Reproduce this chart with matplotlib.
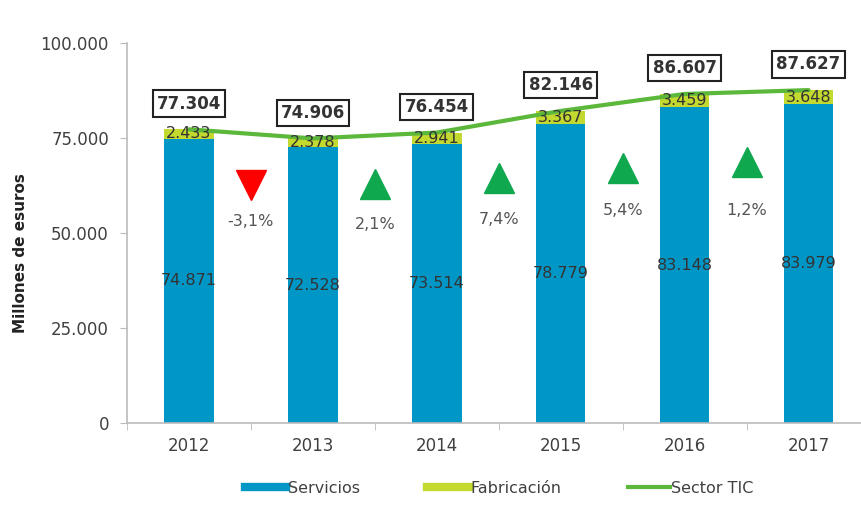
import matplotlib
matplotlib.use("Agg")
import matplotlib.pyplot as plt
import numpy as np
from matplotlib.lines import Line2D

years = ["2012", "2013", "2014", "2015", "2016", "2017"]
servicios = [74871, 72528, 73514, 78779, 83148, 83979]
fabricacion = [2433, 2378, 2941, 3367, 3459, 3648]
sector_tic = [77304, 74906, 76454, 82146, 86607, 87627]
variacion = [-3.1, 2.1, 7.4, 5.4, 1.2]

def fmt(v):
    return f"{v:,}".replace(",", ".")

# layout for change markers (marker y, text y)
marker_y = [62600, 63000, 64500, 67000, 68700]
text_y = [53000, 52200, 53500, 56000, 56000]

blue = "#0096C6"
lime = "#C3D92F"
green_line = "#5CB83A"
tri_green = "#10A84E"
tri_red = "#FF0000"
txt = "#404040"

fig = plt.figure(figsize=(8.61, 5.13), dpi=100)
ax = fig.add_axes([0.1475, 0.1754, 0.852, 0.7406])

x = np.arange(len(years))
w = 0.4
ax.bar(x, servicios, w, color=blue, zorder=2)
ax.bar(x, fabricacion, w, bottom=servicios, color=lime, zorder=2)
ax.plot(x, sector_tic, color=green_line, lw=3, zorder=3, solid_capstyle="round")

for i in range(len(years)):
    ax.text(x[i], servicios[i] / 2, fmt(servicios[i]), ha="center", va="center",
            fontsize=11.5, color="#333333", zorder=4)
    ax.text(x[i], servicios[i] + fabricacion[i] / 2, fmt(fabricacion[i]), ha="center",
            va="center", fontsize=11.5, color="#333333", zorder=4)
    ax.annotate(fmt(sector_tic[i]), (x[i], sector_tic[i]), xytext=(0, 18.5),
                textcoords="offset points", ha="center", va="center", fontsize=12,
                fontweight="bold", color="#333333", zorder=5,
                bbox=dict(boxstyle="square,pad=0.25", fc="white", ec="#222222", lw=1.5))

for j, v in enumerate(variacion):
    xm = j + 0.5
    if v < 0:
        ax.plot(xm, marker_y[j], marker="v", ms=21, color=tri_red, mec=tri_red, zorder=4)
    else:
        ax.plot(xm, marker_y[j], marker="^", ms=21, color=tri_green, mec=tri_green, zorder=4)
    ax.text(xm, text_y[j], f"{v:.1f}%".replace(".", ","), ha="center", va="center",
            fontsize=11.5, color="#555555")

ax.set_xlim(-0.5, 5.42)
ax.set_ylim(0, 100000)
ax.set_yticks([0, 25000, 50000, 75000, 100000])
ax.set_yticklabels([fmt(t) for t in [0, 25000, 50000, 75000, 100000]], fontsize=12, color=txt)
ax.set_xticks(x)
ax.set_xticklabels(years, fontsize=12, color=txt)
ax.set_xticks(np.arange(-0.5, 5.5, 1), minor=True)
ax.tick_params(axis="x", which="major", length=0, pad=10)
ax.tick_params(axis="x", which="minor", length=5, color="#BBBBBB")
ax.tick_params(axis="y", length=5, color="#BBBBBB", pad=8)
for s in ["top", "right"]:
    ax.spines[s].set_visible(False)
ax.spines["left"].set_color("#BBBBBB")
ax.spines["bottom"].set_color("#BBBBBB")
ax.spines["left"].set_linewidth(1.2)
ax.spines["bottom"].set_linewidth(1.2)
ax.set_ylabel("Millones de esuros", fontsize=11, fontweight="bold", color="#222222")
ax.yaxis.set_label_coords(-0.135, 0.447)

handles = [Line2D([0], [0], color=blue, lw=6),
           Line2D([0], [0], color=lime, lw=6),
           Line2D([0], [0], color=green_line, lw=3)]
fig.legend(handles, ["Servicios", "Fabricación", "Sector TIC"], loc="center",
           bbox_to_anchor=(0.58, 0.048), ncol=3, frameon=False, fontsize=11.5,
           handlelength=2.6, handletextpad=0.1, columnspacing=4.2,
           labelcolor=txt)

fig.savefig("out.png", dpi=100)
